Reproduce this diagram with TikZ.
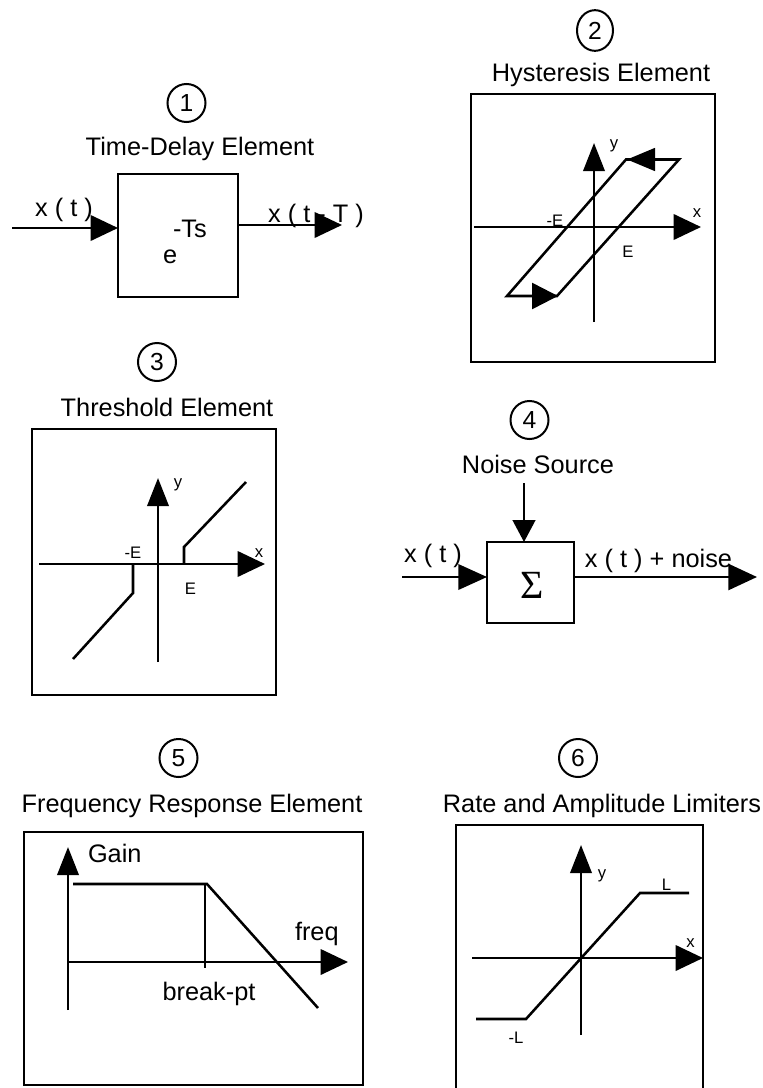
\documentclass[tikz,border=0pt]{standalone}
\usepackage{fontspec}
\setmainfont{Liberation Sans}
\newfontfamily\sigmafont{Liberation Serif}
\usetikzlibrary{arrows.meta,shapes.geometric}
\begin{document}
\begin{tikzpicture}[x=0.75pt,y=-0.75pt,
  every node/.style={inner sep=0pt, outer sep=0pt},
  frame/.style={draw, line width=1.9pt},
  ln/.style={line width=1.9pt},
  thinln/.style={line width=0.8pt},
  hstip/.style={-{Triangle[length=20.5pt,width=19pt]}},
  vstip/.style={-{Triangle[length=21pt,width=16pt]}},
  txt/.style={font=\fontsize{19}{22}\selectfont, anchor=base},
  small/.style={font=\fontsize{12.5}{14}\selectfont, anchor=base},
  num/.style={draw, line width=1.5pt, circle, minimum size=28.5pt, font=\fontsize{18.5}{20}\selectfont},
  numell/.style={draw, line width=1.5pt, ellipse, minimum width=27pt, minimum height=30.5pt, font=\fontsize{18.5}{20}\selectfont}
]
\useasboundingbox (0,0) rectangle (763,1088);

% ---------- Panel 1: Time-Delay Element ----------
\node[num] (c1) at (186.5,103) {1};
\node[txt] (t1) at (200,155) {Time-Delay Element};
\node[frame, minimum width=90pt, minimum height=92.25pt] (b1) at (178,235.5) {};
\node[txt, anchor=base west] (ts) at (173,237) {-Ts};
\node[txt, anchor=base west] (e1) at (163,263) {e};
\coordinate (in1) at (12,228);
\coordinate (out1) at (342,225);
\draw[ln,hstip] (in1) -- (in1 -| b1.west);
\draw[ln,hstip] (out1 -| b1.east) -- (out1);
\node[txt] (xin1) at (64,216) {x ( t )};
\node[txt] (xout1) at (316,222) {x ( t - T )};

% ---------- Panel 2: Hysteresis Element ----------
\node[numell] (c2) at (595,30.5) {2};
\node[txt] (t2) at (601,82) {Hysteresis Element};
\draw[frame] (471,94) rectangle (715,362);
\draw[ln,hstip] (474,227) -- (701,227);
\draw[ln,vstip] (594,322) -- (594,143);
\draw[ln, line join=miter] (507,296) -- (626,159.5) -- (679,159.5) -- (557,296) -- cycle;
\draw[ln, -{Triangle[length=21pt,width=17pt]}] (679,159.5) -- (627,159.5);
\draw[ln, -{Triangle[length=19.5pt,width=19.5pt]}] (507,296) -- (558,296);
\node[small] (y2) at (614,148) {y};
\node[small] (x2) at (697,217) {x};
\node[small] (me2) at (555,226) {-E};
\node[small] (pe2) at (628,257) {E};

% ---------- Panel 3: Threshold Element ----------
\node[num] (c3) at (157,362) {3};
\node[txt] (t3) at (167,416) {Threshold Element};
\draw[frame] (32,429) rectangle (276,695);
\draw[ln,hstip] (39,564) -- (265,564);
\draw[ln,vstip] (158,662) -- (158,478);
\draw[ln] (184,564) -- (184,547) -- (246,482);
\draw[ln] (133,564) -- (133,593) -- (73,659);
\node[small] (y3) at (178,487) {y};
\node[small] (x3) at (259,557) {x};
\node[small] (me3) at (133,558) {-E};
\node[small] (pe3) at (190.5,594) {E};

% ---------- Panel 4: Noise Source ----------
\node[num] (c4) at (529.5,420) {4};
\node[txt] (ns4) at (538,473) {Noise Source};
\node[frame, minimum width=65.25pt, minimum height=60.75pt] (b4) at (530.5,582.5) {};
\node[font=\sigmafont\fontsize{30}{32}\selectfont] (sig) at (532,585) {Σ};
\coordinate (nstop) at (524,483);
\coordinate (in4) at (402,577);
\coordinate (out4) at (757,577);
\draw[ln,-{Triangle[length=16.5pt,width=17pt]}] (nstop) -- (nstop |- b4.north);
\draw[ln,-{Triangle[length=21.5pt,width=19pt]}] (in4) -- (in4 -| b4.west);
\draw[ln,-{Triangle[length=21.5pt,width=19.5pt]}] (out4 -| b4.east) -- (out4);
\node[txt] (xin4) at (433,562) {x ( t )};
\node[txt] (xout4) at (658.5,567) {x ( t ) + noise};

% ---------- Panel 5: Frequency Response Element ----------
\node[num] (c5) at (178.5,758) {5};
\node[txt] (t5) at (192,812) {Frequency Response Element};
\draw[frame] (24,832) rectangle (363,1085);
\draw[ln,vstip] (68,1010) -- (68,847);
\draw[ln,hstip] (68,962) -- (348,962);
\draw[ln] (73,884) -- (207,884) -- (318,1008);
\draw[thinln] (205,884) -- (205,968);
\node[txt, anchor=base west] (gain) at (88,862) {Gain};
\node[txt, anchor=base west] (freq) at (295,940) {freq};
\node[txt] (bp) at (209,1000) {break-pt};

% ---------- Panel 6: Rate and Amplitude Limiters ----------
\node[num] (c6) at (578,758) {6};
\node[txt] (t6) at (602,812) {Rate and Amplitude Limiters};
\draw[frame] (456,1090) -- (456,825) -- (703,825) -- (703,1090);
\draw[ln,vstip] (581,1035) -- (581,845);
\draw[ln,hstip] (472,958) -- (703,958);
\draw[ln] (476,1019) -- (526,1019) -- (640,893) -- (689,893);
\node[small] (y6) at (602,878) {y};
\node[small] (x6) at (690.5,947) {x};
\node[small] (l6) at (666.5,890) {L};
\node[small] (ml6) at (516,1043) {-L};
\end{tikzpicture}
\end{document}
